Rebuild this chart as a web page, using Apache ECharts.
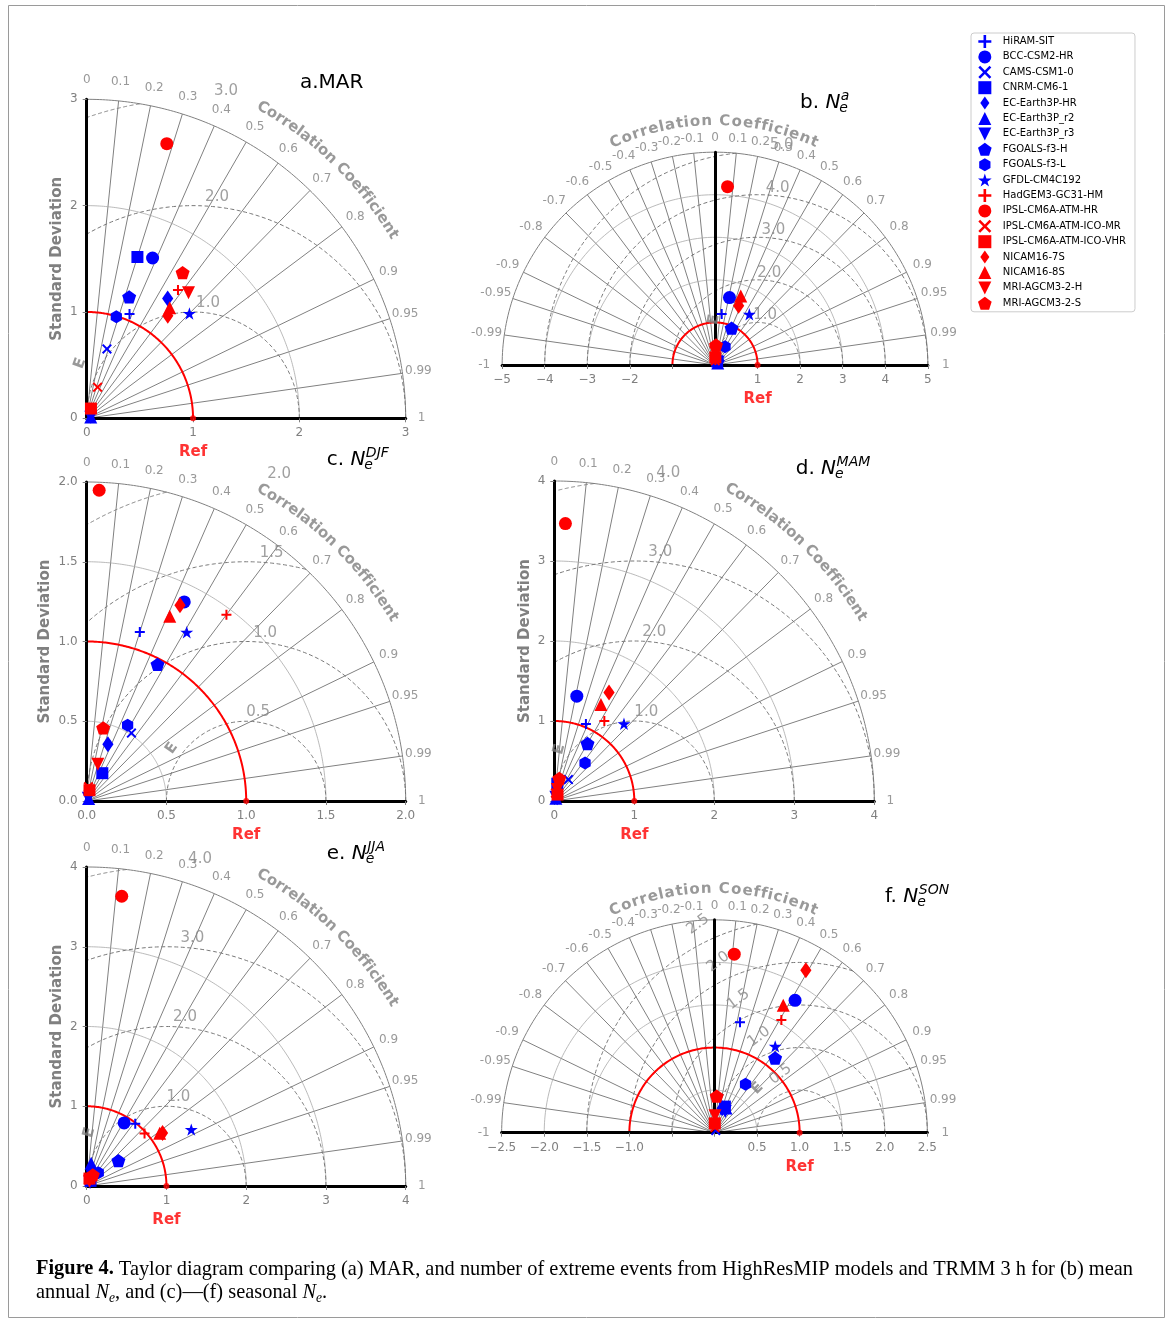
<!DOCTYPE html>
<html>
<head>
<meta charset="utf-8">
<script src="https://cdn.jsdelivr.net/npm/echarts@6/dist/echarts.min.js"></script>
<style>
html, body { margin: 0; padding: 0; background: #fff; }
#main { width: 1171px; height: 1319px; }
</style>
</head>
<body>
<div id="main"></div>
<script>
// models, same order as the legend
const models = ['HiRAM-SIT', 'BCC-CSM2-HR', 'CAMS-CSM1-0', 'CNRM-CM6-1', 'EC-Earth3P-HR', 'EC-Earth3P_r2',
  'EC-Earth3P_r3', 'FGOALS-f3-H', 'FGOALS-f3-L', 'GFDL-CM4C192', 'HadGEM3-GC31-HM', 'IPSL-CM6A-ATM-HR',
  'IPSL-CM6A-ATM-ICO-MR', 'IPSL-CM6A-ATM-ICO-VHR', 'NICAM16-7S', 'NICAM16-8S', 'MRI-AGCM3-2-H', 'MRI-AGCM3-2-S'];

// standard deviation (normalised) and correlation per panel
const stdA = [1.06, 1.63, 0.68, 1.59, 1.36, 0.04, 0.04, 1.21, 0.995, 1.38, 1.48, 2.69, 0.31, 0.10, 1.23, 1.30, 1.52, 1.64];
const corA = [0.38, 0.38, 0.28, 0.30, 0.56, 0.95, 0.97, 0.33, 0.28, 0.70, 0.58, 0.28, 0.33, 0.40, 0.62, 0.60, 0.63, 0.55];
const stdB = [1.21, 1.62, 0.12, 0.10, 0.14, 0.08, 0.10, 0.95, 0.49, 1.44, 0.12, 4.20, 0.10, 0.18, 1.50, 1.73, 0.30, 0.47];
const corB = [0.13, 0.21, 0.60, 0.50, 0.70, 0.80, 0.75, 0.41, 0.48, 0.56, 0.08, 0.07, 0.06, 0.05, 0.37, 0.35, 0.04, 0.05];
const stdC = [1.11, 1.39, 0.51, 0.20, 0.38, 0.02, 0.02, 0.965, 0.54, 1.23, 1.46, 1.95, 0.09, 0.07, 1.36, 1.27, 0.24, 0.47];
const corC = [0.30, 0.44, 0.55, 0.49, 0.35, 0.60, 0.50, 0.46, 0.475, 0.51, 0.60, 0.04, 0.12, 0.25, 0.43, 0.41, 0.29, 0.22];
const stdD = [1.04, 1.34, 0.32, 0.22, 0.06, 0.04, 0.05, 0.83, 0.61, 1.30, 1.18, 3.47, 0.10, 0.09, 1.52, 1.34, 0.15, 0.29];
const corD = [0.38, 0.21, 0.55, 0.17, 0.60, 0.50, 0.40, 0.50, 0.63, 0.67, 0.53, 0.04, 0.15, 0.45, 0.45, 0.435, 0.25, 0.215];
const stdE = [0.99, 0.92, 0.10, 0.08, 0.20, 0.29, 0.06, 0.51, 0.22, 1.49, 0.98, 3.66, 0.08, 0.10, 1.16, 1.13, 0.07, 0.16];
const corE = [0.615, 0.51, 0.50, 0.60, 0.30, 0.19, 0.70, 0.78, 0.66, 0.88, 0.74, 0.12, 0.30, 0.35, 0.82, 0.81, 0.50, 0.48];
const stdF = [1.33, 1.82, 0.03, 0.33, 0.30, 0.32, 0.28, 1.13, 0.675, 1.24, 1.54, 2.11, 0.06, 0.11, 2.19, 1.70, 0.20, 0.43];
const corF = [0.225, 0.52, 0.50, 0.37, 0.30, 0.42, 0.45, 0.63, 0.54, 0.575, 0.51, 0.11, 0.10, 0.03, 0.49, 0.475, 0.03, 0.06];

// correlation ticks and contour levels
const corTicks = [0.1, 0.2, 0.3, 0.4, 0.5, 0.6, 0.7, 0.8, 0.9, 0.95, 0.99];
const stdArcsA = [2, 3], rmsA = [1, 2, 3];
const stdArcsB = [2, 3, 4, 5], rmsB = [1, 2, 3, 4, 5];
const stdArcsC = [0.5, 1.5, 2], rmsC = [0.5, 1, 1.5, 2];
const stdArcsD = [2, 3, 4], rmsD = [1, 2, 3, 4];
const stdArcsE = [2, 3, 4], rmsE = [1, 2, 3, 4];
const stdArcsF = [0.5, 1.5, 2, 2.5], rmsF = [0.5, 1, 1.5, 2, 2.5];
const refStd = 1;

const markers = ['plus', 'circle', 'cross', 'square', 'thind', 'tri', 'tridown', 'pent', 'hex', 'star',
  'plus', 'circle', 'cross', 'square', 'thind', 'tri', 'tridown', 'pent'];
const isRed = [0, 0, 0, 0, 0, 0, 0, 0, 0, 0, 1, 1, 1, 1, 1, 1, 1, 1];

const BLUE = '#0000ff', RED = '#ff0000', GRAY = '#808080';
const SYM = {
  plus: 'path://M40,0H60V40H100V60H60V100H40V60H0V40H40Z',
  cross: 'path://M0,14L14,0L50,36L86,0L100,14L64,50L100,86L86,100L50,64L14,100L0,86L36,50Z',
  circle: 'circle',
  square: 'path://M0,0H100V100H0Z',
  tri: 'path://M50,0L100,100L0,100Z',
  tridown: 'path://M0,0L100,0L50,100Z',
  thind: 'path://M50,0L85,50L50,100L15,50Z',
  pent: 'path://M50,0L97.55,34.55L79.39,90.45L20.61,90.45L2.45,34.55Z',
  hex: 'path://M50,0L93.3,25L93.3,75L50,100L6.7,75L6.7,25Z',
  star: 'path://M50,0L61.23,34.55L97.55,34.55L68.17,55.9L79.39,90.45L50,69.1L20.61,90.45L31.83,55.9L2.45,34.55L38.77,34.55Z'
};
const SIZE = { plus: 10, cross: 10, circle: 13, square: 12, tri: 13, tridown: 13, thind: 16, pent: 14, hex: 13, star: 13 };

// panel layout (origin in px, px per unit)
const panels = [
  { std: stdA, cor: corA, R: 3, step: 1, dec: 0, half: false, ox: 86.7, oy: 418.3, pxu: 106.33,
    arcs: stdArcsA, rms: rmsA, rmsOff: [15, 24, 33], nameGap: 22, E: [-0.063, 0.517, 70],
    title: { x: 300, base: 89, pre: 'a.MAR' } },
  { std: stdB, cor: corB, R: 5, step: 1, dec: 0, half: true, ox: 715, oy: 365, pxu: 42.57,
    arcs: stdArcsB, rms: rmsB, rmsOff: [7.5, 11.7, 15.9, 20, 24], hide: [-1, 0], E: [-0.02, 1.07, 80],
    title: { x: 800, base: 109, pre: 'b. ', sup: 'a' } },
  { std: stdC, cor: corC, R: 2, step: 0.5, dec: 1, half: false, ox: 86.7, oy: 801, pxu: 159.5,
    arcs: stdArcsC, rms: rmsC, rmsOff: [12, 19, 25.5, 33], nameGap: 34, E: [0.533, 0.33, 55],
    title: { x: 326.7, base: 466, pre: 'c. ', sup: 'DJF' } },
  { std: stdD, cor: corD, R: 4, step: 1, dec: 0, half: false, ox: 554.3, oy: 801, pxu: 80,
    arcs: stdArcsD, rms: rmsD, rmsOff: [12, 20, 26, 34], nameGap: 22, E: [0.063, 0.646, 75],
    title: { x: 795.7, base: 475, pre: 'd. ', sup: 'MAM' } },
  { std: stdE, cor: corE, R: 4, step: 1, dec: 0, half: false, ox: 86.7, oy: 1186, pxu: 79.75,
    arcs: stdArcsE, rms: rmsE, rmsOff: [12, 18.6, 26, 33.6], nameGap: 22, E: [0.033, 0.669, 75],
    title: { x: 326.7, base: 860, pre: 'e. ', sup: 'JJA' } },
  { std: stdF, cor: corF, R: 2.5, step: 0.5, dec: 1, half: true, ox: 714.5, oy: 1132.7, pxu: 85.14,
    arcs: stdArcsF, rms: rmsF, rotRms: true, hide: [-0.5, 0], E: [0.503, 0.521, 45],
    title: { x: 885, base: 903, pre: 'f. ', sup: 'SON' } }
];

const ctx = document.createElement('canvas').getContext('2d');
function tw(text, font) { ctx.font = font; return ctx.measureText(text).width; }

function arc(cx, r, t0, t1) {
  const pts = [];
  for (let i = 0; i <= 160; i++) {
    const t = t0 + (t1 - t0) * i / 160;
    pts.push([cx + r * Math.cos(t), r * Math.sin(t)]);
  }
  return pts;
}
function lab(x, y, text, style) {
  return { value: [x, y], label: Object.assign({ show: true, formatter: text, position: [0.5, 0.5],
    align: 'center', verticalAlign: 'middle', color: GRAY, fontSize: 12, textBorderWidth: 0 }, style) };
}

const option = {
  animation: false,
  textStyle: { fontFamily: 'DejaVu Sans' },
  grid: [], xAxis: [], yAxis: [], series: [], graphic: [],
  legend: {
    orient: 'vertical', left: 971, top: 33, padding: [2, 9, 2, 7],
    itemGap: 2.4, itemWidth: 26, itemHeight: 13, selectedMode: false,
    borderColor: '#cccccc', borderWidth: 1, borderRadius: 3,
    textStyle: { fontSize: 10, color: '#000', fontFamily: 'DejaVu Sans' },
    data: models.map((m, i) => ({ name: m, icon: SYM[markers[i]], itemStyle: { color: isRed[i] ? RED : BLUE } }))
  }
};

panels.forEach((p, k) => {
  const Rpx = p.R * p.pxu;
  option.grid.push({ left: p.half ? p.ox - Rpx : p.ox, top: p.oy - Rpx, width: p.half ? 2 * Rpx : Rpx,
    height: Rpx, outerBoundsMode: 'none' });
  const fmt = v => {
    if (p.hide && p.hide.some(h => Math.abs(h - v) < 1e-9)) return '';
    const s = Math.abs(v).toFixed(p.dec);
    return v < 0 ? '\u2212' + s : s;
  };
  option.xAxis.push({ gridIndex: k, type: 'value', min: p.half ? -p.R : 0, max: p.R, interval: p.step, z: 3,
    axisLine: { onZero: true, lineStyle: { color: '#000', width: 3 } },
    axisTick: { length: 4, lineStyle: { color: GRAY } },
    axisLabel: { color: GRAY, fontSize: 12, margin: 9, formatter: fmt, showMinLabel: true, showMaxLabel: true },
    splitLine: { show: false } });
  option.yAxis.push({ gridIndex: k, type: 'value', min: 0, max: p.R, interval: p.step, z: 3,
    axisLine: { onZero: true, lineStyle: { color: '#000', width: 3 } },
    axisTick: { show: !p.half, length: 4, lineStyle: { color: GRAY } },
    axisLabel: { show: !p.half, color: GRAY, fontSize: 12, margin: 9, formatter: fmt, showMinLabel: true, showMaxLabel: true },
    splitLine: { show: false },
    name: p.half ? '' : 'Standard Deviation', nameLocation: 'middle', nameGap: p.nameGap || 20,
    nameTextStyle: { color: GRAY, fontWeight: 'bold', fontSize: 15 } });

  // grid of the Taylor diagram
  const tEnd = p.half ? Math.PI : Math.PI / 2;
  const cors = p.half ? corTicks.map(c => -c).concat(corTicks) : corTicks;
  const decor = [];
  cors.forEach(c => {
    const t = Math.acos(c);
    decor.push({ pts: [[0, 0], [p.R * Math.cos(t), p.R * Math.sin(t)]], color: GRAY, width: 1 });
  });
  p.arcs.forEach(s => decor.push({ pts: arc(0, s, 0, tEnd), color: s === p.R ? GRAY : '#a8a8a8', width: s === p.R ? 1 : 0.8 }));
  p.rms.forEach(r => {
    const lo = Math.acos(Math.min(1, (p.R * p.R - refStd - r * r) / (2 * r)));
    const hi = p.half ? Math.PI : Math.acos(Math.max(-1, -refStd / r));
    if (hi > lo) decor.push({ pts: arc(refStd, r, lo, hi), color: '#777', width: 1, dash: [4, 2.5] });
  });
  decor.push({ pts: arc(0, refStd, 0, tEnd), color: RED, width: 2 });
  option.series.push({
    type: 'custom', xAxisIndex: k, yAxisIndex: k, z: 2, silent: true,
    data: decor.map(() => [0, 0]),
    renderItem: (params, api) => {
      const d = decor[params.dataIndex];
      return { type: 'polyline', shape: { points: d.pts.map(q => api.coord(q)) },
        style: { stroke: d.color, lineWidth: d.width, lineDash: d.dash || null, fill: null } };
    }
  });

  // model markers
  models.forEach((m, i) => {
    const s = p.std[i], c = p.cor[i];
    option.series.push({ type: 'scatter', name: m, xAxisIndex: k, yAxisIndex: k, z: 5, silent: true, clip: false,
      symbol: SYM[markers[i]], symbolSize: SIZE[markers[i]], symbolKeepAspect: true,
      itemStyle: { color: isRed[i] ? RED : BLUE, opacity: 1 },
      data: [[s * c, s * Math.sqrt(1 - c * c)]] });
  });

  // reference point
  option.series.push({ type: 'scatter', xAxisIndex: k, yAxisIndex: k, z: 6, silent: true, clip: false,
    symbol: 'circle', symbolSize: 6, itemStyle: { color: RED },
    label: { show: true, formatter: 'Ref', position: [3, 37], align: 'center', verticalAlign: 'middle',
      color: RED, fontWeight: 'bold', fontSize: 15 },
    data: [[refStd, 0]] });

  // text around the diagram
  const labs = [];
  const corLab = p.half ? [-1].concat(corTicks.map(c => -c).reverse(), [0], corTicks, [1]) : [0].concat(corTicks, [1]);
  corLab.forEach(c => {
    const t = Math.acos(c);
    const rp = (Rpx + (p.half ? 14 + 4 * Math.abs(c) : 19 - 3 * Math.abs(c))) / p.pxu;
    labs.push(lab(rp * Math.cos(t), rp * Math.sin(t), String(c)));
  });
  p.rms.forEach((r, j) => {
    if (p.rotRms) {
      const a = (118 - 5 / r) * Math.PI / 180, d = r + 19 / p.pxu;
      labs.push(lab(refStd + d * Math.cos(a), d * Math.sin(a), r.toFixed(1), { fontSize: 15, color: '#888', rotate: 37 }));
    } else {
      const dx = p.rmsOff[j] / p.pxu;
      const y = Math.sqrt(Math.max(0, r * r - dx * dx)) + (p.half ? 8 : 10) / p.pxu;
      labs.push(lab(refStd + dx, y, r.toFixed(1), { fontSize: 15, color: '#888' }));
    }
  });
  const txt = 'Correlation Coefficient';
  const font = 'bold 15px "DejaVu Sans"';
  let acc = 0;
  const centers = [...txt].map(ch => { const w = tw(ch, font); const c = acc + w / 2; acc += w; return c; });
  const ccR = Rpx + (p.half ? 31 : 38);
  const ccMid = p.half ? 90 : 45.7, ccSpan = p.half ? 48 : 29.5;
  const sc = (ccSpan * Math.PI / 180 * ccR) / (centers[centers.length - 1] - centers[0]);
  const mid = (centers[0] + centers[centers.length - 1]) / 2;
  [...txt].forEach((ch, j) => {
    if (ch === ' ') return;
    const ang = ccMid - ((centers[j] - mid) * sc / ccR) * 180 / Math.PI;
    const t = ang * Math.PI / 180;
    labs.push(lab(ccR / p.pxu * Math.cos(t), ccR / p.pxu * Math.sin(t), ch,
      { fontSize: 15, fontWeight: 'bold', rotate: ang - 90 }));
  });
  labs.push(lab(p.E[0], p.E[1], 'E', { fontSize: 15, fontWeight: 'bold', rotate: p.E[2] }));
  option.series.push({ type: 'scatter', xAxisIndex: k, yAxisIndex: k, z: 4, silent: true, clip: false,
    symbolSize: 1, itemStyle: { color: 'rgba(0,0,0,0)' }, data: labs });

  // panel title
  const t = p.title, fs = 20, ss = 14;
  const mainFont = fs + 'px "DejaVu Sans"';
  option.graphic.push({ type: 'text', x: t.x, y: t.base - 0.33 * fs,
    style: { text: t.pre, font: mainFont, fill: '#000', align: 'left', verticalAlign: 'middle' } });
  if (t.sup) {
    const xN = t.x + tw(t.pre, mainFont);
    const nFont = 'italic ' + fs + 'px "DejaVu Sans"';
    const sFont = 'italic ' + ss + 'px "DejaVu Sans"';
    option.graphic.push({ type: 'text', x: xN, y: t.base - 0.33 * fs,
      style: { text: 'N', font: nFont, fill: '#000', align: 'left', verticalAlign: 'middle' } });
    const xs = xN + tw('N', nFont) + 0.5;
    option.graphic.push({ type: 'text', x: xs, y: t.base - 8 - 0.33 * ss,
      style: { text: t.sup, font: sFont, fill: '#000', align: 'left', verticalAlign: 'middle' } });
    option.graphic.push({ type: 'text', x: xs - 1.5, y: t.base + 4 - 0.33 * ss,
      style: { text: 'e', font: sFont, fill: '#000', align: 'left', verticalAlign: 'middle' } });
  }
});

// frame and caption
option.graphic.push({ type: 'rect', z: -10, shape: { x: 8.5, y: 5.5, width: 1156, height: 1312 },
  style: { fill: 'none', stroke: '#9a9a9a', lineWidth: 1 } });
const capSize = 21, capFam = 'px "Liberation Serif"';
const line1 = [{ t: 'Figure 4.', w: 'bold ' }, { t: ' Taylor diagram comparing (a) MAR, and number of extreme events from HighResMIP models and TRMM 3 h for (b) mean', w: '' }];
const line2 = [{ t: 'annual ', w: '' }, { t: 'N', w: 'italic ' }, { t: 'e', w: 'italic ', sub: true },
  { t: ', and (c)\u2014(f) seasonal ', w: '' }, { t: 'N', w: 'italic ' }, { t: 'e', w: 'italic ', sub: true }, { t: '.', w: '' }];
const natW = line1.reduce((a, q) => a + tw(q.t, q.w + capSize + capFam), 0);
const capScale = 1097 / natW;
[[line1, 1276], [line2, 1299]].forEach(([pieces, base]) => {
  let x = 36;
  pieces.forEach(q => {
    const size = q.sub ? 14 : capSize;
    const f = q.w + size + capFam;
    option.graphic.push({ type: 'text', x: x, y: base - 0.33 * size + (q.sub ? 4 : 0), scaleX: capScale,
      style: { text: q.t, font: f, fill: '#000', align: 'left', verticalAlign: 'middle' } });
    x += tw(q.t, f) * capScale;
  });
});

const chart = echarts.init(document.getElementById('main'), null, { renderer: 'canvas' });
chart.setOption(option);
</script>
</body>
</html>
